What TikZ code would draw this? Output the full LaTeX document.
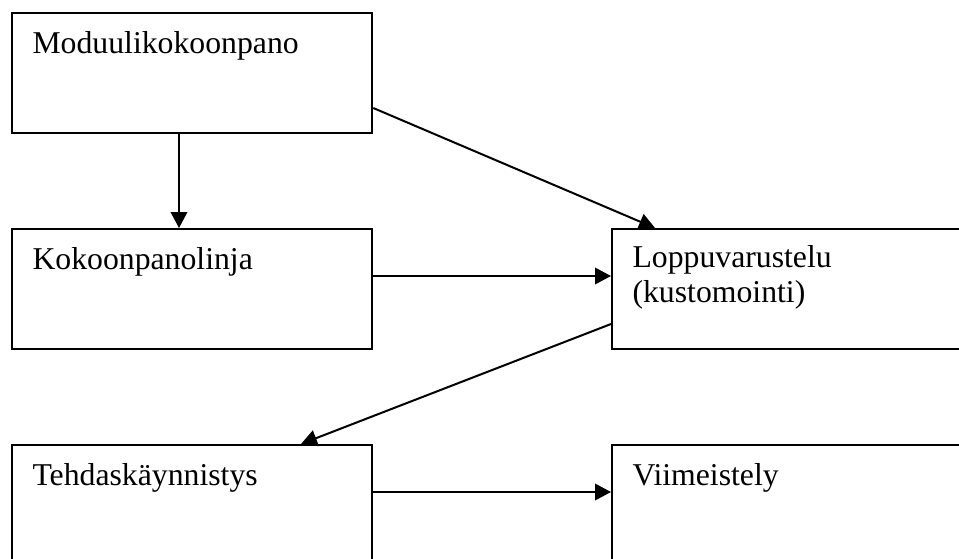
\documentclass[tikz,border=0pt]{standalone}
\usepackage{fontspec}
\setmainfont{Liberation Serif}
\usetikzlibrary{arrows.meta,positioning,calc}

\begin{document}
\begin{tikzpicture}[x=0.375pt, y=-0.375pt,
    laatikko/.style={draw, line width=0.85pt, anchor=north west, inner sep=0pt,
        minimum width=135pt, minimum height=45pt},
    teksti/.style={anchor=base west, inner sep=0pt, align=left,
        font=\fontsize{11.9}{13.1}\selectfont},
    nuoli/.style={line width=0.75pt, -{Triangle[length=6pt, width=6.2pt]}}]
    \useasboundingbox (0,0) rectangle (959,558);

    % Laatikot
    \node[laatikko] (modul) at (11,12) {};
    \node[laatikko] (kokoon) at (11,228) {};
    \node[laatikko] (loppu) at (611,228) {};
    \node[laatikko] (tehdas) at (11,444) {};
    \node[laatikko] (viim) at (611,444) {};

    % Tekstit
    \node[teksti] (modult) at ([shift={(21,41)}]modul.north west) {Moduulikokoonpano};
    \node[teksti] (kokoont) at ([shift={(21,41)}]kokoon.north west) {Kokoonpanolinja};
    \node[teksti] (loppult) at ([shift={(21,74)}]loppu.north west) {Loppuvarustelu\\(kustomointi)};
    \node[teksti] (tehdast) at ([shift={(21,41)}]tehdas.north west) {Tehdaskäynnistys};
    \node[teksti] (viimt) at ([shift={(21,41)}]viim.north west) {Viimeistely};

    % Nuolet
    \draw[nuoli] ([shift={(168,0)}]modul.south west) -- ([shift={(168,0)}]kokoon.north west);
    \draw[nuoli] ([shift={(0,96)}]modul.north east) -- ([shift={(44,0)}]loppu.north west);
    \draw[nuoli] ([shift={(0,48)}]kokoon.north east) -- ([shift={(0,48)}]loppu.north west);
    \draw[nuoli] ([shift={(0,96)}]loppu.north west) -- ([shift={(290,0)}]tehdas.north west);
    \draw[nuoli] ([shift={(0,48)}]tehdas.north east) -- ([shift={(0,48)}]viim.north west);
\end{tikzpicture}
\end{document}
